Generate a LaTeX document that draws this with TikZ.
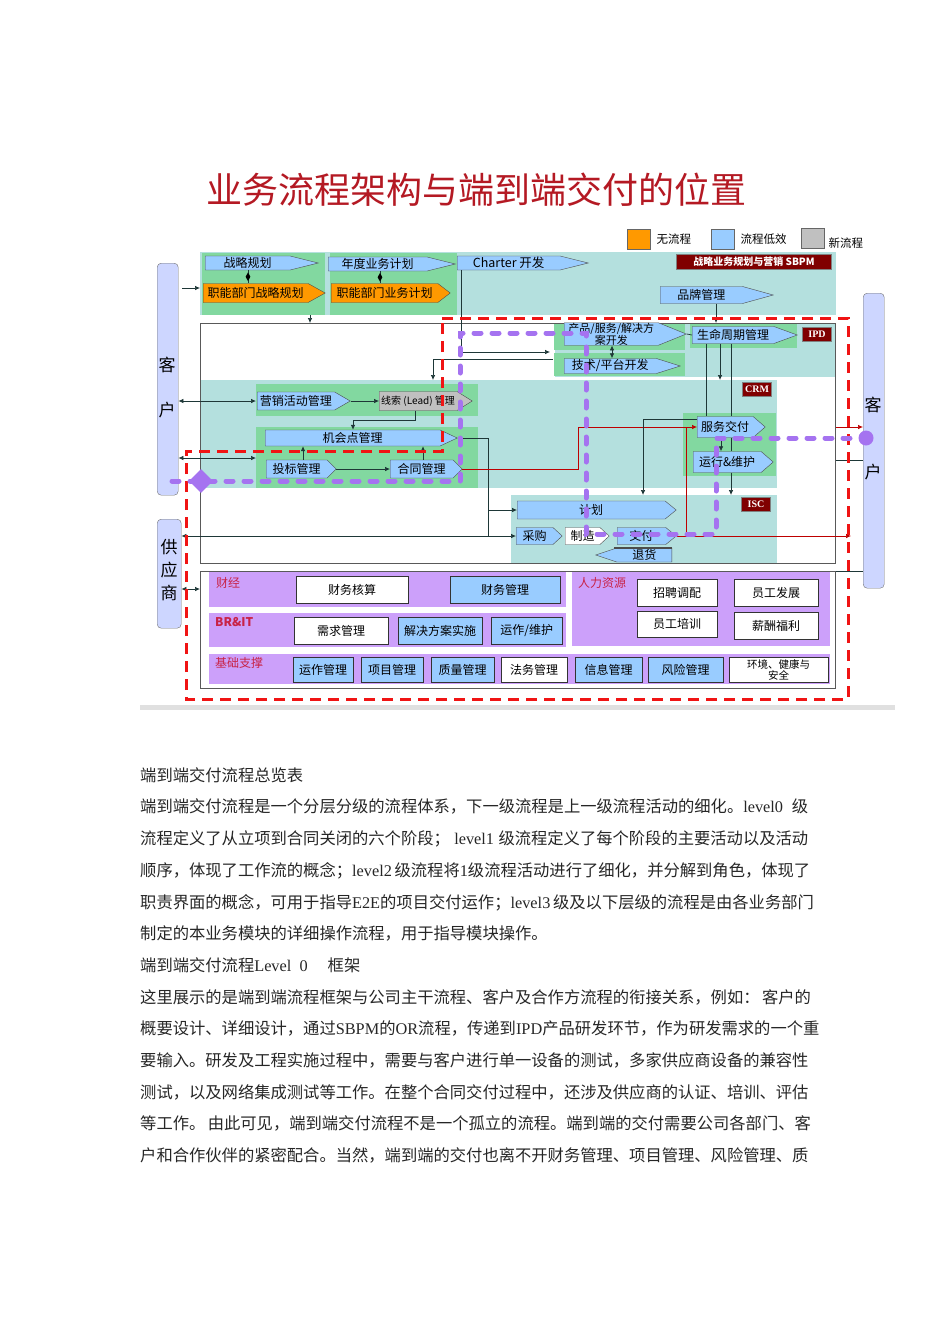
\documentclass[tikz,border=0pt]{standalone}
\usepackage{fontspec}
\setmainfont{Noto Sans CJK SC}
\newfontfamily\tnr{Liberation Serif}
\usepackage{tikz}
\usetikzlibrary{arrows.meta,positioning,shapes.symbols,shapes.geometric,calc}
\XeTeXlinebreaklocale "zh"
\XeTeXlinebreakskip=0pt plus 2pt

\definecolor{lowblue}{RGB}{153,204,255}
\definecolor{noorange}{RGB}{255,153,0}
\definecolor{newgray}{RGB}{192,192,192}
\definecolor{bandteal}{RGB}{180,224,222}
\definecolor{bandgreen}{RGB}{130,216,160}
\definecolor{supviolet}{RGB}{204,160,250}
\definecolor{tagred}{RGB}{128,0,0}
\definecolor{titlered}{RGB}{180,25,35}
\definecolor{e2epurple}{RGB}{165,115,240}
\definecolor{custblue}{RGB}{205,214,255}
\definecolor{linered}{RGB}{190,0,0}
\definecolor{linedark}{RGB}{30,55,55}
\definecolor{labred}{RGB}{200,35,70}
\definecolor{scopered}{RGB}{240,20,20}

\newcommand{\fsz}[1]{\fontsize{#1}{#1}\selectfont}
\newcommand{\bodyline}[1]{\makebox[668pt][s]{#1}}

\begin{document}
\begin{tikzpicture}[x=1pt, y=-1pt,
  proc/.style={signal, signal to=east, signal pointer angle=#1, draw=black!70, fill=lowblue,
    inner sep=0pt, anchor=west, font=\fsz{12}},
  proc/.default=60,
  noproc/.style={proc=#1, fill=noorange},
  noproc/.default=60,
  newproc/.style={proc=#1, fill=newgray},
  newproc/.default=60,
  band/.style={anchor=north west, inner sep=0pt},
  frame/.style={draw=black!65, line width=0.8pt, anchor=north west, inner sep=0pt},
  sbox/.style={draw=black!80, fill=white, anchor=north west, inner sep=0pt, font=\fsz{12}, align=center},
  bbox/.style={sbox, fill=lowblue},
  tag/.style={draw=black!50, fill=tagred, text=white, inner sep=0pt, minimum width=29,
    minimum height=14, font=\tnr\bfseries\fsz{10}},
  cust/.style={draw=black!55, fill=custblue, rounded corners=4pt, anchor=north west, minimum width=21},
  custtxt/.style={font=\fsz{17}, inner sep=0pt},
  legsq/.style={draw=black!60, minimum width=23, minimum height=20, anchor=north west, inner sep=0pt},
  leg/.style={font=\fsz{11.5}, inner sep=1pt, anchor=west},
  grp/.style={font=\fsz{12}, text=labred, anchor=north west, inner sep=0pt},
  dmark/.style={diamond, fill=black, minimum width=5, minimum height=9, inner sep=0pt},
  link/.style={linedark, line width=0.7pt},
  arr/.style={link, -{Latex[length=5pt,width=4.5pt]}},
  darr/.style={link, {Latex[length=5pt,width=4.5pt]}-{Latex[length=5pt,width=4.5pt]}},
  rarr/.style={arr, linered},
  e2eline/.style={draw=scopered, line width=3pt, dash pattern=on 11pt off 7pt},
  e2epath/.style={draw=e2epurple, line width=5pt, line cap=round, dash pattern=on 7pt off 11pt},
  body/.style={anchor=base west, inner sep=0pt, font=\fsz{16.3}, text=black!85},
]
\useasboundingbox (0,0) rectangle (950,1344);

% Title and legend
\node[font=\fsz{36}, text=titlered] (title) at (476,190) {业务流程架构与端到端交付的位置};
\node[legsq, fill=noorange] (lgno) at (627,229) {};
\node[leg, right=5pt of lgno] (lgnotxt) {无流程};
\node[legsq, fill=lowblue] (lglow) at (711,229) {};
\node[leg, right=5pt of lglow] (lglowtxt) {流程低效};
\node[legsq, fill=newgray] (lgnew) at (801,228) {};
\node[leg, right=3pt of lgnew, yshift=-5pt] (lgnewtxt) {新流程};

% Background bands
\node[band, fill=bandteal, minimum width=636, minimum height=63] (sbpmband) at (200,252) {};
\node[band, fill=bandgreen, minimum width=123, minimum height=62] (topgreenA) at (202,253) {};
\node[band, fill=bandgreen, minimum width=127, minimum height=62] (topgreenB) at (330,253) {};
\node[band, fill=bandteal, minimum width=280, minimum height=54] (ipdband) at (555,323) {};
\node[band, fill=bandgreen, minimum width=131, minimum height=27] (ipdgreenA) at (554,323) {};
\node[band, fill=bandgreen, minimum width=131, minimum height=23] (ipdgreenB) at (554,353) {};
\node[band, fill=bandgreen, minimum width=107, minimum height=25] (ipdgreenC) at (690,323) {};
\node[band, fill=bandteal, minimum width=577, minimum height=108] (crmband) at (200,380) {};
\node[band, fill=bandgreen, minimum width=222, minimum height=32] (crmgreenA) at (256,384) {};
\node[band, fill=bandgreen, minimum width=222, minimum height=61] (crmgreenB) at (256,427) {};
\node[band, fill=bandgreen, minimum width=93, minimum height=63] (crmgreenC) at (683,413) {};
\node[band, fill=bandteal, minimum width=266, minimum height=68] (iscband) at (511,495) {};
\node[band, fill=supviolet, minimum width=357, minimum height=35] (finband) at (209,572) {};
\node[band, fill=supviolet, minimum width=258, minimum height=74] (hrband) at (572,572) {};
\node[band, fill=supviolet, minimum width=357, minimum height=34] (britband) at (209,613) {};
\node[band, fill=supviolet, minimum width=621, minimum height=30] (baseband) at (209,654) {};
\fill[black!12] (140,705) rectangle (895,710);

\node[frame, minimum width=635, minimum height=240] (mainbox) at (200,323) {};
\node[frame, minimum width=635, minimum height=117] (supbox) at (200,571) {};

% Customers and suppliers
\node[cust, minimum height=232] (custL) at (157,263) {};
\node[custtxt] (custLa) at (167,365) {客};
\node[custtxt] (custLb) at (167,410) {户};
\node[cust, minimum width=24, minimum height=109] (custS) at (157,519) {};
\node[custtxt] (custSa) at (169,547) {供};
\node[custtxt] (custSb) at (169,570) {应};
\node[custtxt] (custSc) at (169,593) {商};
\node[cust, minimum height=295] (custR) at (863,293) {};
\node[custtxt] (custRa) at (873,405) {客};
\node[custtxt] (custRb) at (873,472) {户};

% SBPM
\node[proc=28, minimum width=113, minimum height=14] (zlgh) at (205,263) {战略规划};
\node[noproc=58, minimum width=122, minimum height=19] (znzl) at (203,293) {职能部门战略规划};
\node[proc=28, minimum width=127, minimum height=14] (ndjh) at (328,264) {年度业务计划};
\node[noproc=75, minimum width=119, minimum height=19] (znyw) at (331,293) {职能部门业务计划};
\node[proc=28, minimum width=131, minimum height=14, font=\fsz{12.5}] (charter) at (457,263) {Charter 开发};
\node[tag, minimum width=155, minimum height=15, font=\bfseries\fsz{10}] (sbpmtag) at (754,262) {战略业务规划与营销 SBPM};
\node[proc=31, minimum width=113, minimum height=17] (ppgl) at (660,295) {品牌管理};

% IPD
\node[proc=44, minimum width=122, minimum height=22, align=center, font=\fsz{11}] (cpkf) at (564,334) {产品/服务/解决方\\案开发};
\node[proc=35, minimum width=116, minimum height=15] (jspt) at (564,366) {技术/平台开发};
\node[proc=40, minimum width=105, minimum height=17] (smzq) at (692,335) {生命周期管理};
\node[tag] (ipdtag) at (817,334) {IPD};

% CRM
\node[proc=60, minimum width=93, minimum height=18] (yxhd) at (257,401) {营销活动管理};
\node[newproc=64, minimum width=93, minimum height=19, font=\fsz{10}] (xsgl) at (379,401) {线索 (Lead) 管理};
\node[proc=50, minimum width=192, minimum height=16] (jhd) at (265,438) {机会点管理};
\node[proc=90, minimum width=70, minimum height=18] (tbgl) at (266,469) {投标管理};
\node[proc=90, minimum width=72, minimum height=18] (htgl) at (390,469) {合同管理};
\node[proc=82, minimum width=68, minimum height=21] (fwjf) at (697,427) {服务交付};
\node[proc=82, minimum width=80, minimum height=21] (yxwh) at (693,462) {运行\&维护};
\node[tag] (crmtag) at (757,389) {CRM};

% ISC
\node[proc=78, minimum width=159, minimum height=18] (jh) at (517,510) {计划};
\node[proc=85, minimum width=46, minimum height=17] (cg) at (516,536) {采购};
\node[proc=85, fill=white, minimum width=44, minimum height=17] (zz) at (565,536) {制造};
\node[proc=78, minimum width=59, minimum height=17] (jf) at (617,536) {交付};
\node[proc=37, signal to=west, anchor=east, minimum width=76, minimum height=14] (th) at (672,555) {退货};
\draw[line width=2.5pt, black!70] (614,0 |- th.north) -- (th.north east);
\node[tag] (isctag) at (756,504) {ISC};

% Support processes
\node[grp] (cjlab) at (216,577) {财经};
\node[grp, font=\bfseries\fsz{12}] (britlab) at (215,617) {BR\&IT};
\node[grp] (jclab) at (215,657) {基础支撑};
\node[grp] (rllab) at (578,577) {人力资源};
\node[sbox, minimum width=112, minimum height=27] (cwhs) at (296,576) {财务核算};
\node[bbox, minimum width=110, minimum height=27] (cwgl) at (450,576) {财务管理};
\node[sbox, minimum width=94, minimum height=27] (xqgl) at (294,617) {需求管理};
\node[bbox, minimum width=84, minimum height=27] (jjfa) at (398,617) {解决方案实施};
\node[bbox, minimum width=71, minimum height=27] (yzwh) at (491,617) {运作/维护};
\node[bbox, minimum width=60, minimum height=25] (yzgl) at (293,657) {运作管理};
\node[bbox, minimum width=62, minimum height=25] (xmgl) at (361,657) {项目管理};
\node[bbox, minimum width=63, minimum height=25] (zlgl) at (431,657) {质量管理};
\node[sbox, minimum width=66, minimum height=25] (fwgl) at (501,657) {法务管理};
\node[bbox, minimum width=67, minimum height=25] (xxgl) at (575,657) {信息管理};
\node[bbox, minimum width=75, minimum height=25] (fxgl) at (648,657) {风险管理};
\node[sbox, minimum width=99, minimum height=25, font=\fsz{10.5}] (hjjk) at (729,657) {环境、健康与\\安全};
\node[sbox, minimum width=80, minimum height=27] (zpdp) at (637,579) {招聘调配};
\node[sbox, minimum width=84, minimum height=27] (ygfz) at (734,579) {员工发展};
\node[sbox, minimum width=80, minimum height=26] (ygpx) at (637,611) {员工培训};
\node[sbox, minimum width=84, minimum height=27] (xcfl) at (734,612) {薪酬福利};

% Connectors
\draw[arr] (182,288) -- (sbpmband.west |- 0,288);
\draw[link] (248,0 |- zlgh.south) -- node[dmark] {} (248,0 |- znzl.north);
\draw[link] (380,0 |- ndjh.south) -- node[dmark] {} (380,0 |- znyw.north);
\draw[arr] (310,0 |- sbpmband.south) -- (310,0 |- mainbox.north);
\coordinate (ipdin) at (550,352);
\coordinate (ipdout) at (553,359);
\draw[arr] (461,0 |- charter.south) |- (ipdin);
\draw[arr] (ipdout) -| (433,0 |- crmband.north);
\draw[darr] (612,0 |- cpkf.south) -- (612,0 |- jspt.north);
\draw[link] (cpkf.east) -- (smzq.west);
\draw[arr] (716,0 |- ppgl.south) -- (716,0 |- mainbox.north);
\draw[link] (706,0 |- smzq.south) -- (706,0 |- fwjf.north);
\draw[arr] (720,0 |- smzq.south) -- (720,0 |- crmband.north);
\draw[link] (731,0 |- smzq.south) -- (731,0 |- fwjf.north);
\draw[link] (731,0 |- fwjf.south) -- (731,0 |- yxwh.north);
\draw[arr] (731,0 |- yxwh.south) -- (731,0 |- iscband.north);
\draw[arr] (721,0 |- fwjf.south) -- (721,0 |- yxwh.north);
\draw[darr] (custL.east |- yxhd.west) -- (crmgreenA.west |- yxhd.west);
\draw[arr] (yxhd.east) -- (xsgl.west);
\draw[arr] (415,0 |- xsgl.south) -- (415,420) -| (353,0 |- jhd.north);
\draw[arr] (303,0 |- tbgl.north) -- (303,0 |- jhd.south);
\draw[arr] (423,0 |- htgl.north) -- (423,0 |- jhd.south);
\draw[arr] (tbgl.east) -- (htgl.west);
\draw[darr] (custL.east |- 0,458) -- (crmgreenB.west |- 0,458);
\draw[link] (jhd.east) -| (488,0 |- cg.west);
\draw[arr] (488,0 |- jh.west) -- (jh.west);
\draw[darr] (custS.east |- cg.west) -- (cg.west);
\draw[rarr] (htgl.east) -- (578,0 |- htgl.east) |- (fwjf.west);
\draw[linered, line width=0.7pt] (686,0 |- jf.east) -- (686,0 |- fwjf.west);
\draw[rarr] (jf.east) -- (851,0 |- jf.east);
\draw[arr] (fwjf.west |- 0,419) -| (643,0 |- iscband.north);
\draw[rarr] (mainbox.east |- fwjf.west) -- (custR.west |- fwjf.west);
\draw[link] (mainbox.east |- 0,460) -- (custR.west |- 0,460);
\draw[link] (supbox.north east) -- (custR.west |- supbox.north east);
\draw[darr] (custS.east |- 0,589) -- (supbox.west |- 0,589);

% End-to-end scope and delivery path
\draw[e2eline] (442,318) -- (848,318) -- (848,699) -- (186,699) -- (186,451) -- (442,451) -- cycle;
\node[diamond, fill=e2epurple, minimum width=24, minimum height=24, inner sep=0pt] (e2estart) at (201,481) {};
\node[circle, fill=e2epurple, minimum size=15, inner sep=0pt] (e2eend) at (866,438) {};
\draw[e2epath] (172,0 |- e2estart) -- (460,0 |- e2estart) -- (460,333) -- (586,333) -- (586,534) -- (716,534) -- (716,0 |- e2eend) -- (e2eend);

% Text below
\node[body] (p1) at (140,781) {端到端交付流程总览表};
\node[body] (p2) at (140,812) {\bodyline{端到端交付流程是一个分层分级的流程体系，下一级流程是上一级流程活动的细化。{\tnr level0\ }级}};
\node[body] (p3) at (140,844) {\bodyline{流程定义了从立项到合同关闭的六个阶段；{\tnr\ level1\ }级流程定义了每个阶段的主要活动以及活动}};
\node[body] (p4) at (140,876) {\bodyline{顺序，体现了工作流的概念；{\tnr level2\ }级流程将{\tnr 1}级流程活动进行了细化，并分解到角色，体现了}};
\node[body] (p5) at (140,908) {\bodyline{职责界面的概念，可用于指导{\tnr E2E}的项目交付运作；{\tnr level3\ }级及以下层级的流程是由各业务部门}};
\node[body] (p6) at (140,939) {制定的本业务模块的详细操作流程，用于指导模块操作。};
\node[body] (p7) at (140,971) {端到端交付流程{\tnr Level\ \ 0}\hspace{20pt}框架};
\node[body] (p8) at (140,1003) {\bodyline{这里展示的是端到端流程框架与公司主干流程、客户及合作方流程的衔接关系，例如：\ 客户的}};
\node[body] (p9) at (140,1034) {\bodyline{概要设计、详细设计，通过{\tnr SBPM}的{\tnr OR}流程，传递到{\tnr IPD}产品研发环节，作为研发需求的一个重}};
\node[body] (p10) at (140,1066) {\bodyline{要输入。研发及工程实施过程中，需要与客户进行单一设备的测试，多家供应商设备的兼容性}};
\node[body] (p11) at (140,1098) {\bodyline{测试，以及网络集成测试等工作。在整个合同交付过程中，还涉及供应商的认证、培训、评估}};
\node[body] (p12) at (140,1129) {\bodyline{等工作。\ 由此可见，端到端交付流程不是一个孤立的流程。端到端的交付需要公司各部门、客}};
\node[body] (p13) at (140,1161) {\bodyline{户和合作伙伴的紧密配合。当然，端到端的交付也离不开财务管理、项目管理、风险管理、质}};

\end{tikzpicture}
\end{document}
